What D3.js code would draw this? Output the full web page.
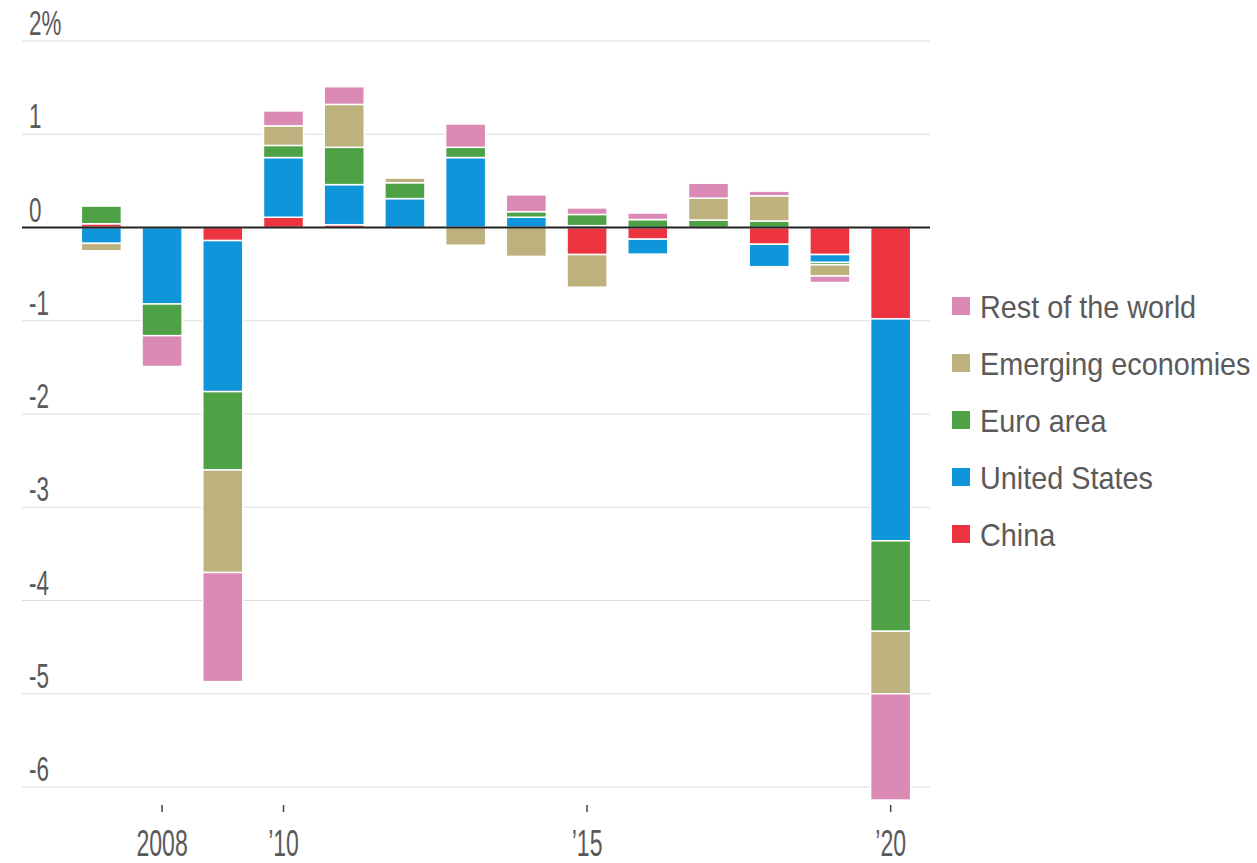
<!DOCTYPE html>
<html>
<head>
<meta charset="utf-8">
<script src="https://cdn.jsdelivr.net/npm/d3@7"></script>
<style>
  html, body { margin: 0; padding: 0; background: #fff; }
  svg { display: block; }
  text { font-family: "Liberation Sans", Arial, sans-serif; fill: #5a5a5a; }
</style>
</head>
<body>
<svg id="chart" width="1257" height="863"></svg>
<script>
// Contribution to world GDP growth, percentage points
const years = [2007, 2008, 2009, 2010, 2011, 2012, 2013, 2014, 2015, 2016, 2017, 2018, 2019, 2020];

const china    = [0.04, 0, -0.14, 0.11, 0.03, 0, 0, 0, -0.29, -0.125, 0, -0.18, -0.29, -0.98];
const usa      = [-0.17, -0.82, -1.62, 0.64, 0.43, 0.31, 0.75, 0.11, 0.02, -0.16, 0, -0.24, -0.085, -2.38];
const euroArea = [0.19, -0.34, -0.84, 0.13, 0.40, 0.17, 0.11, 0.06, 0.12, 0.085, 0.08, 0.07, -0.025, -0.97];
const emerging = [-0.08, 0, -1.10, 0.21, 0.46, 0.05, -0.19, -0.31, -0.35, 0, 0.235, 0.27, -0.12, -0.67];
const restOfWorld = [0, -0.33, -1.17, 0.16, 0.19, 0, 0.25, 0.18, 0.07, 0.07, 0.16, 0.05, -0.07, -1.14];

const seriesKeys   = ["China", "United States", "Euro area", "Emerging economies", "Rest of the world"];
const seriesValues = [china, usa, euroArea, emerging, restOfWorld];
const seriesColors = ["#ec3540", "#0f95da", "#4fa146", "#bdb27d", "#da8ab4"];

const yTicks = [2, 1, 0, -1, -2, -3, -4, -5, -6];
const yTickLabels = ["2%", "1", "0", "-1", "-2", "-3", "-4", "-5", "-6"];
const xTickYears  = [2008, 2010, 2015, 2020];
const xTickLabels = ["2008", "\u201910", "\u201915", "\u201920"];

// rows for d3.stack
const rows = years.map((yr, i) => {
  const r = { year: yr };
  seriesKeys.forEach((k, j) => { r[k] = seriesValues[j][i]; });
  return r;
});

const svg = d3.select("#chart");

const x = d3.scaleBand()
  .domain(years)
  .range([71, 921])
  .paddingInner(0.34)
  .paddingOuter(0.17);

const y = d3.scaleLinear().domain([-6, 2]).range([787, 41]);

const gridX0 = 22, gridX1 = 930;

// condensed text: regular face squeezed horizontally
function condensedText(sel, sx) {
  return sel.append("text").attr("transform", `scale(${sx},1)`);
}

// horizontal gridlines
svg.append("g")
  .selectAll("line")
  .data(yTicks.filter(t => t !== 0))
  .join("line")
  .attr("x1", gridX0).attr("x2", gridX1)
  .attr("y1", d => y(d)).attr("y2", d => y(d))
  .attr("stroke", "#dcdcdc")
  .attr("stroke-width", 1);

// y tick labels sitting above their lines
const yLab = svg.append("g")
  .selectAll("g")
  .data(yTicks)
  .join("g")
  .attr("transform", d => `translate(29, ${y(d) - 6})`);
condensedText(yLab, 0.64)
  .attr("font-size", 35)
  .text((d, i) => yTickLabels[i]);

// stacked bars, diverging around zero
const stack = d3.stack()
  .keys(seriesKeys)
  .offset(d3.stackOffsetDiverging);
const stacked = stack(rows);

const color = d3.scaleOrdinal().domain(seriesKeys).range(seriesColors);

svg.append("g")
  .selectAll("g")
  .data(stacked)
  .join("g")
  .attr("fill", d => color(d.key))
  .selectAll("rect")
  .data(d => d.filter(s => s[1] !== s[0]))
  .join("rect")
  .attr("x", d => x(d.data.year))
  .attr("width", x.bandwidth())
  .attr("y", d => y(Math.max(d[0], d[1])))
  .attr("height", d => Math.abs(y(d[0]) - y(d[1])))
  .attr("stroke", "#fff")
  .attr("stroke-width", 1.5);

// zero baseline
svg.append("line")
  .attr("x1", gridX0).attr("x2", gridX1)
  .attr("y1", y(0)).attr("y2", y(0))
  .attr("stroke", "#222")
  .attr("stroke-width", 2);

// x axis ticks and labels
const xAxis = svg.append("g");
xAxis.selectAll("line")
  .data(xTickYears)
  .join("line")
  .attr("x1", d => x(d) + x.bandwidth() / 2)
  .attr("x2", d => x(d) + x.bandwidth() / 2)
  .attr("y1", 805).attr("y2", 812)
  .attr("stroke", "#444")
  .attr("stroke-width", 1.5);
const xLab = xAxis.selectAll("g")
  .data(xTickYears)
  .join("g")
  .attr("transform", d => `translate(${x(d) + x.bandwidth() / 2}, 856)`);
condensedText(xLab, 0.64)
  .attr("text-anchor", "middle")
  .attr("font-size", 36)
  .text((d, i) => xTickLabels[i]);

// legend, top entry is the last series
const legendKeys = seriesKeys.slice().reverse();
const legend = svg.append("g")
  .selectAll("g")
  .data(legendKeys)
  .join("g")
  .attr("transform", (d, i) => `translate(952, ${306 + i * 57})`);
legend.append("rect")
  .attr("x", 0).attr("y", -9)
  .attr("width", 18).attr("height", 18)
  .attr("fill", d => color(d));
const legendText = legend.append("g").attr("transform", "translate(28, 12)");
condensedText(legendText, 0.9)
  .attr("font-size", 32)
  .text(d => d);
</script>
</body>
</html>
